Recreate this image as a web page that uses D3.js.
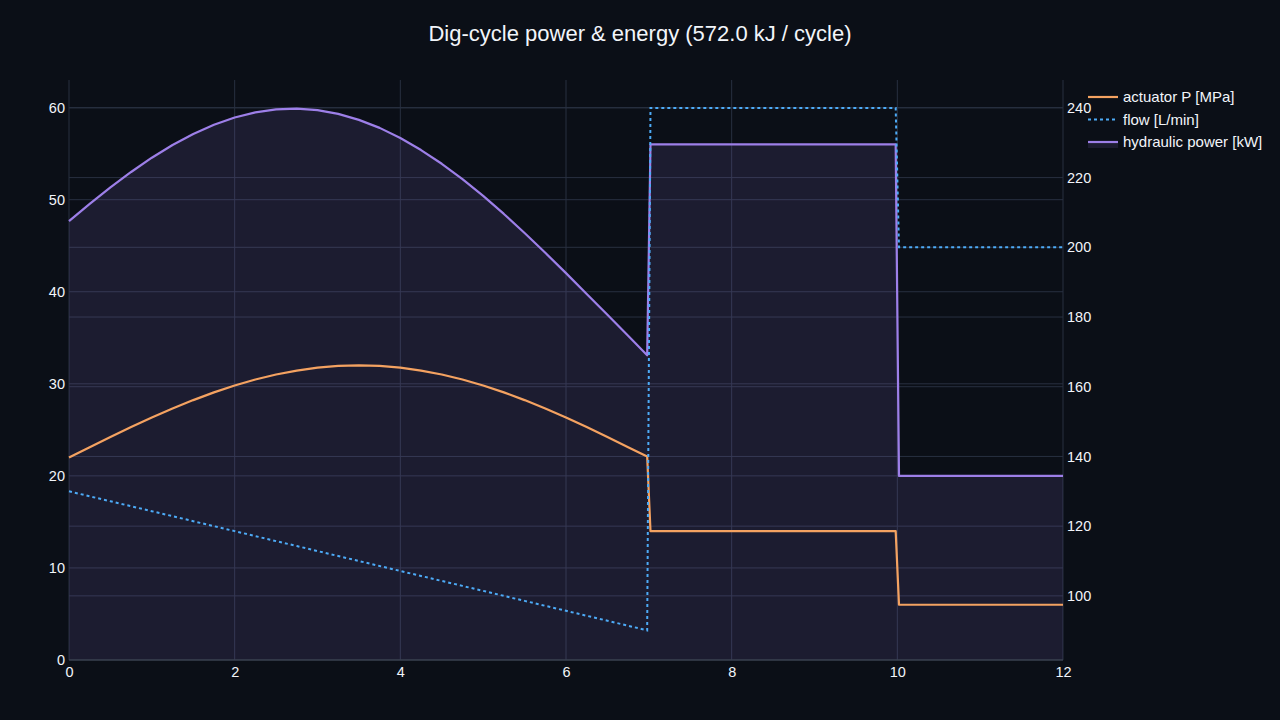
<!DOCTYPE html>
<html>
<head>
<meta charset="utf-8">
<script src="https://cdn.jsdelivr.net/npm/d3@7"></script>
<style>
  html, body { margin: 0; padding: 0; background: #0b0f17; }
  svg { display: block; font-family: "Liberation Sans", Arial, sans-serif; }
</style>
</head>
<body>
<svg width="1280" height="720"></svg>
<script>
// datos
const tiempo = [0, 0.25, 0.5, 0.75, 1, 1.25, 1.5, 1.75, 2, 2.25, 2.5, 2.75, 3, 3.25, 3.5,
  3.75, 4, 4.25, 4.5, 4.75, 5, 5.25, 5.5, 5.75, 6, 6.25, 6.5, 6.75, 6.98, 7.02, 9.98, 10.02, 12];
const presion = [22.0, 23.12, 24.23, 25.30, 26.34, 27.32, 28.23, 29.07, 29.82, 30.47, 31.01, 31.44, 31.75, 31.94, 32.0,
  31.94, 31.75, 31.44, 31.01, 30.47, 29.82, 29.07, 28.23, 27.32, 26.34, 25.30, 24.23, 23.12, 22.1, 14, 14, 6, 6];
const caudal = [130.0, 128.57, 127.14, 125.71, 124.29, 122.86, 121.43, 120.0, 118.57, 117.14, 115.71, 114.29, 112.86, 111.43, 110.0,
  108.57, 107.14, 105.71, 104.29, 102.86, 101.43, 100.0, 98.57, 97.14, 95.71, 94.29, 92.86, 91.43, 90.1, 240, 240, 200, 200];
const potencia = [47.67, 49.54, 51.34, 53.01, 54.56, 55.94, 57.13, 58.14, 58.93, 59.49, 59.80, 59.89, 59.72, 59.32, 58.67,
  57.80, 56.70, 55.39, 53.90, 52.24, 50.41, 48.45, 46.38, 44.23, 42.02, 39.76, 37.50, 35.23, 33.1, 56, 56, 20, 20];

const ticksX = [0, 2, 4, 6, 8, 10, 12];
const ticksIzq = [0, 10, 20, 30, 40, 50, 60];
const ticksDer = [100, 120, 140, 160, 180, 200, 220, 240];
const nombres = ['actuator P [MPa]', 'flow [L/min]', 'hydraulic power [kW]'];
const titulo = 'Dig-cycle power & energy (572.0 kJ / cycle)';

const svg = d3.select('svg');
const ancho = +svg.attr('width');
const alto = +svg.attr('height');

const margen = { izq: 69, der: 1063, arriba: 80, abajo: 660 };
const colores = { presion: '#f4a261', caudal: '#4dabf7', potencia: '#9d7fe8' };
const grilla = '#283040';
const texto = '#f2f5fa';

svg.append('rect').attr('width', ancho).attr('height', alto).attr('fill', '#0b0f17');

const x = d3.scaleLinear().domain([0, 12]).range([margen.izq, margen.der]);
const yIzq = d3.scaleLinear().domain([0, 63]).range([margen.abajo, margen.arriba]);
const yDer = d3.scaleLinear().domain([81.6, 248]).range([margen.abajo, margen.arriba]);

const datos = tiempo.map((t, i) => ({ t, p: presion[i], q: caudal[i], w: potencia[i] }));

// grillas
const grupoGrilla = svg.append('g').attr('stroke', grilla).attr('stroke-width', 1);
grupoGrilla.selectAll('.gx').data(ticksX).join('line')
    .attr('x1', d => x(d)).attr('x2', d => x(d))
    .attr('y1', margen.arriba).attr('y2', margen.abajo);
grupoGrilla.selectAll('.gi').data(ticksIzq.slice(1)).join('line')
    .attr('x1', margen.izq).attr('x2', margen.der)
    .attr('y1', d => yIzq(d)).attr('y2', d => yIzq(d));
grupoGrilla.selectAll('.gd').data(ticksDer).join('line')
    .attr('x1', margen.izq).attr('x2', margen.der)
    .attr('y1', d => yDer(d)).attr('y2', d => yDer(d));

// area de potencia
svg.append('path')
    .datum(datos)
    .attr('fill', colores.potencia)
    .attr('fill-opacity', 0.12)
    .attr('d', d3.area().x(d => x(d.t)).y0(yIzq(0)).y1(d => yIzq(d.w)));

// linea del cero
svg.append('line')
    .attr('x1', margen.izq).attr('x2', margen.der)
    .attr('y1', yIzq(0)).attr('y2', yIzq(0))
    .attr('stroke', '#3a4250').attr('stroke-width', 1.5);

// lineas
svg.append('path')
    .datum(datos)
    .attr('fill', 'none')
    .attr('stroke', colores.presion)
    .attr('stroke-width', 2.2)
    .attr('stroke-linejoin', 'round')
    .attr('d', d3.line().x(d => x(d.t)).y(d => yIzq(d.p)));

svg.append('path')
    .datum(datos)
    .attr('fill', 'none')
    .attr('stroke', colores.potencia)
    .attr('stroke-width', 2.2)
    .attr('stroke-linejoin', 'round')
    .attr('d', d3.line().x(d => x(d.t)).y(d => yIzq(d.w)));

svg.append('path')
    .datum(datos)
    .attr('fill', 'none')
    .attr('stroke', colores.caudal)
    .attr('stroke-width', 2)
    .attr('stroke-dasharray', '3,3')
    .attr('d', d3.line().x(d => x(d.t)).y(d => yDer(d.q)));

// ejes
const ejeX = svg.append('g')
    .attr('transform', `translate(0, ${margen.abajo})`)
    .call(d3.axisBottom(x).tickValues(ticksX).tickSize(0).tickPadding(7));
const ejeIzq = svg.append('g')
    .attr('transform', `translate(${margen.izq}, 0)`)
    .call(d3.axisLeft(yIzq).tickValues(ticksIzq).tickSize(0).tickPadding(4));
const ejeDer = svg.append('g')
    .attr('transform', `translate(${margen.der}, 0)`)
    .call(d3.axisRight(yDer).tickValues(ticksDer).tickSize(0).tickPadding(4));

[ejeX, ejeIzq, ejeDer].forEach(eje => {
    eje.select('.domain').remove();
    eje.selectAll('text')
        .attr('fill', texto)
        .style('font-size', '14.5px')
        .style('font-family', '"Liberation Sans", Arial, sans-serif');
});

// titulo
svg.append('text')
    .attr('x', ancho / 2)
    .attr('y', 41)
    .attr('text-anchor', 'middle')
    .attr('fill', texto)
    .style('font-size', '22px')
    .text(titulo);

// leyenda
const leyenda = svg.append('g').attr('transform', 'translate(1088, 97)');
const items = leyenda.selectAll('g').data(nombres).join('g')
    .attr('transform', (d, i) => `translate(0, ${i * 22.5})`);

items.filter((d, i) => i === 2).append('rect')
    .attr('x', 0).attr('y', 0).attr('width', 30).attr('height', 6)
    .attr('fill', colores.potencia).attr('fill-opacity', 0.12);

items.append('line')
    .attr('x1', 0).attr('x2', 30).attr('y1', 0).attr('y2', 0)
    .attr('stroke', (d, i) => [colores.presion, colores.caudal, colores.potencia][i])
    .attr('stroke-width', 2.2)
    .attr('stroke-dasharray', (d, i) => i === 1 ? '3,3' : null);

items.append('text')
    .attr('x', 35)
    .attr('y', 5)
    .attr('fill', texto)
    .style('font-size', '15px')
    .text(d => d);
</script>
</body>
</html>
